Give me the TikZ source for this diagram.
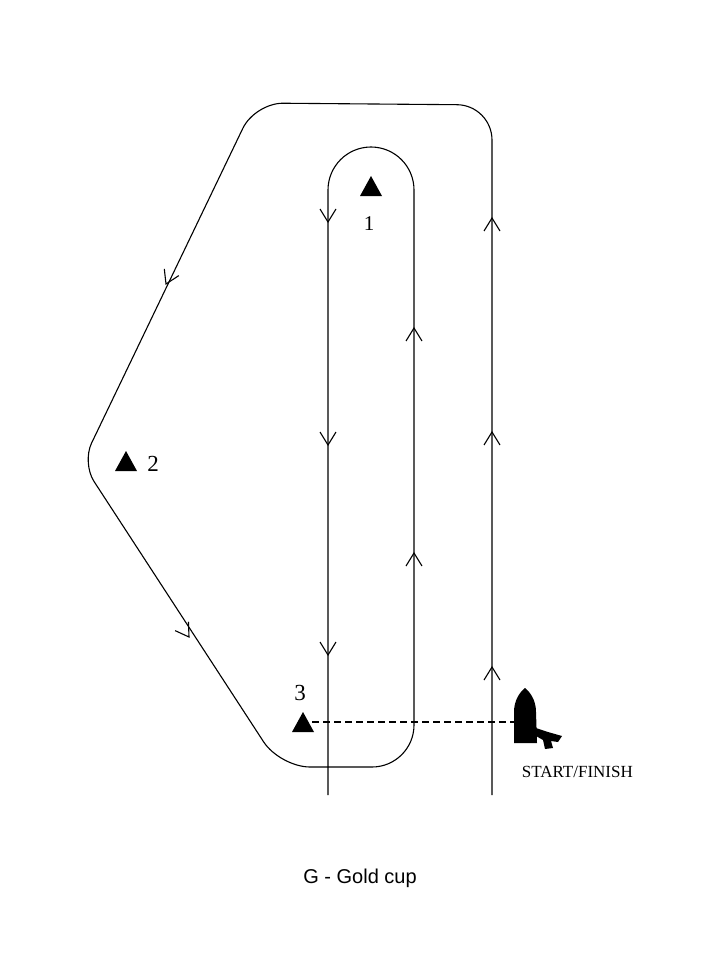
\documentclass[tikz,border=0pt]{standalone}
\usepackage{fontspec}
\setmainfont{Liberation Serif}
\newfontfamily\capfont{Liberation Sans}
\begin{document}
\begin{tikzpicture}[x=1pt,y=1pt,line width=1.1pt,
  chev/.style={line width=1.1pt}]
\useasboundingbox (0,0) rectangle (720,-960);
\newcommand\chv[3]{\draw[chev,shift={(#1,-#2)},rotate=#3] (-13,8)--(0,0)--(-13,-8);}
% course
\coordinate (s) at (492,-795);
\coordinate (e) at (328,-795);
\draw (s) {[rounded corners=35pt] -- (492,-105)} {[rounded corners=28pt] -- (255,-103)} {[rounded corners=22pt] -- (82,-463)} {[rounded corners=30pt] -- (280,-767)} {[rounded corners=42pt] -- (414,-767)} -- (414,-190) arc[start angle=0,end angle=180,radius=43] -- (e);
\draw[dash pattern=on 7pt off 4pt,line width=1.4pt] (312,-722) -- (514,-722);
% chevrons
\chv{492}{218}{90}\chv{492}{432}{90}\chv{492}{667}{90}
\chv{414}{328}{90}\chv{414}{553}{90}
\chv{328}{222}{-90}\chv{328}{445}{-90}\chv{328}{655}{-90}
\chv{166}{284}{-115.2}\chv{189}{637}{-56.3}
% marks
\fill (360,-196) -- (371,-176) -- (382,-196) -- cycle;
\fill (115,-471) -- (126,-451) -- (137,-471) -- cycle;
\fill (292,-732) -- (303,-712) -- (314,-732) -- cycle;
\node[font=\fontsize{21}{21}\selectfont] (l1) at (369,-224) {1};
\node[font=\fontsize{23}{23}\selectfont] (l2) at (153,-464) {2};
\node[font=\fontsize{23}{23}\selectfont] (l3) at (300,-693) {3};
% boat
\fill (514,-743) -- (514,-712) .. controls (514,-700) and (520,-692) .. (525,-688) .. controls (530,-692) and (536,-700) .. (536,-712) -- (537,-743) -- cycle;
\fill (536,-728) -- (548,-732) -- (562,-736) -- (558,-742) -- (551,-741) -- (553,-748) -- (545,-749) -- (543,-740) -- (536,-736) -- cycle;
\node[font=\fontsize{17}{17}\selectfont,anchor=west] (sf) at (518,-772) {START/FINISH};
\node[font=\capfont\fontsize{20}{20}\selectfont] (cap) at (360,-878) {G - Gold cup};
\end{tikzpicture}
\end{document}
